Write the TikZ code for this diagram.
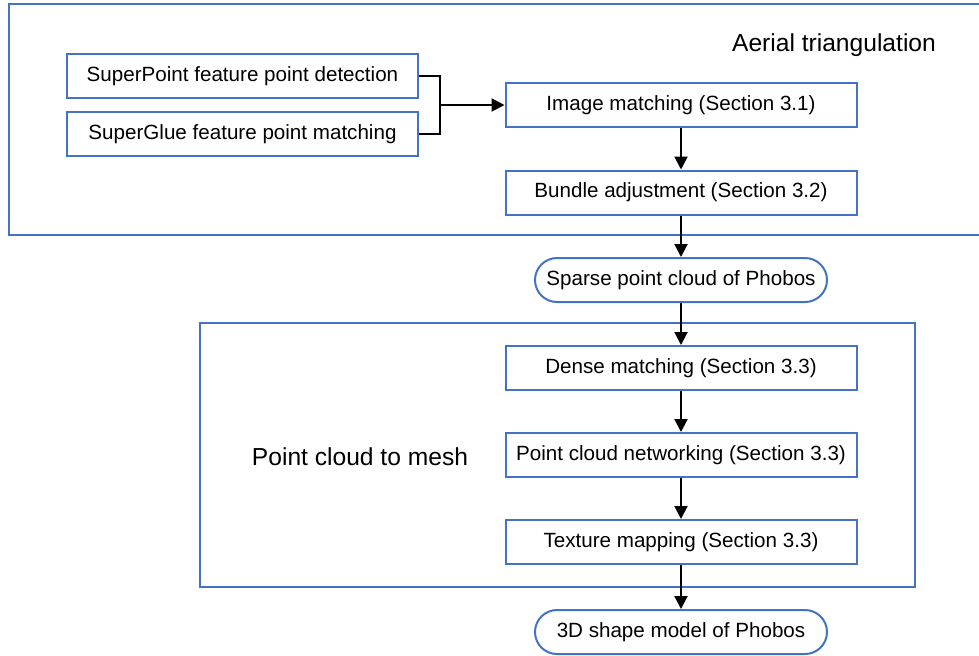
\documentclass[tikz,border=0pt]{standalone}
\usepackage{fontspec}
\setmainfont{Liberation Sans}
\usetikzlibrary{arrows.meta}
\definecolor{frameblue}{RGB}{68,114,196}

\begin{document}
\begin{tikzpicture}[x=0.5pt,y=-0.5pt,>={Triangle[length=6.5pt,width=6.5pt]},
  box/.style={draw=frameblue,line width=1pt,minimum width=175.5pt,minimum height=22pt,inner sep=0pt,font=\fontsize{10.3}{12}\selectfont},
  result/.style={box,rounded corners=11pt,minimum width=146pt},
  flow/.style={->,line width=1pt},
  title/.style={font=\fontsize{12.3}{14}\selectfont}]
\useasboundingbox (0,0) rectangle (979,655);
% Aerial triangulation
\draw[frameblue,line width=1pt] (979,4) -- (9,4) -- (9,235) -- (979,235);
\node[title] (aerial) at (834,45) {Aerial triangulation};
\node[box] (sp) at (242.5,76) {SuperPoint feature point detection};
\node[box] (sg) at (242.5,134) {SuperGlue feature point matching};
\node[box] (im) at (681,105) {Image matching (Section 3.1)};
\node[box] (ba) at (681,192.5) {Bundle adjustment (Section 3.2)};
\coordinate (join) at (440,105);
\draw[line width=1pt] (sp.east) -| (join); \draw[line width=1pt] (sg.east) -| (join);
\draw[flow] (join) -- (im.west);
\draw[flow] (im) -- (ba);
% sparse cloud
\node[result] (sparse) at (681,280) {Sparse point cloud of Phobos};
\draw[flow] (ba) -- (sparse);
% Point cloud to mesh
\draw[frameblue,line width=1pt] (200,323) rectangle (915,587);
\node[title] (mesh) at (360,457) {Point cloud to mesh};
\node[box] (dm) at (681,368) {Dense matching (Section 3.3)};
\node[box] (pcn) at (681,455) {Point cloud networking (Section 3.3)};
\node[box] (tm) at (681,542) {Texture mapping (Section 3.3)};
\draw[flow] (sparse) -- (dm);
\draw[flow] (dm) -- (pcn);
\draw[flow] (pcn) -- (tm);
% model
\node[result] (model) at (681,632) {3D shape model of Phobos};
\draw[flow] (tm) -- (model);
\end{tikzpicture}
\end{document}
